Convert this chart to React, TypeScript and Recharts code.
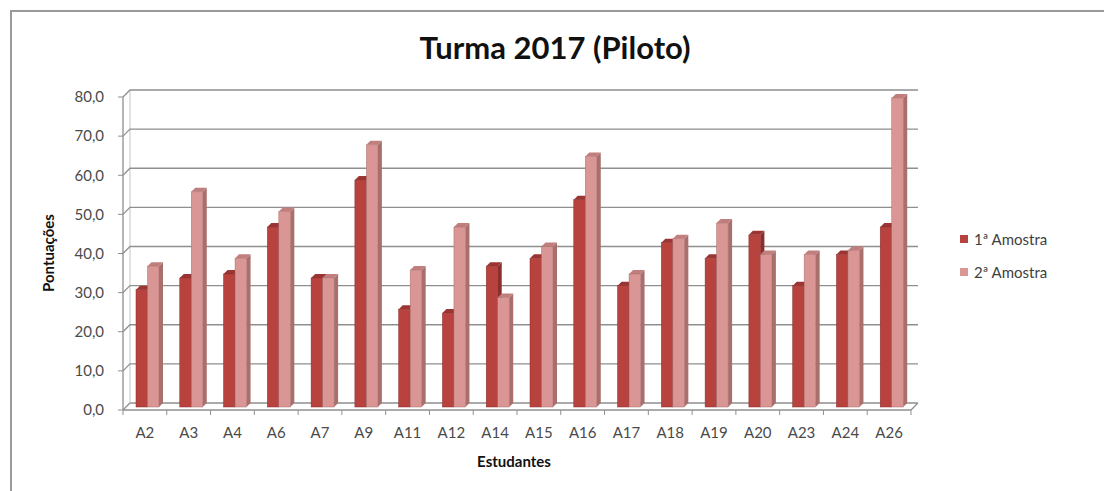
import React from 'react'
import { BarChart, Bar, XAxis, YAxis, CartesianGrid, Legend } from 'recharts'

// Alunos e pontuações de cada amostra
const students = ['A2', 'A3', 'A4', 'A6', 'A7', 'A9', 'A11', 'A12', 'A14', 'A15', 'A16', 'A17', 'A18', 'A19', 'A20', 'A23', 'A24', 'A26']
const amostra1 = [30, 33, 34, 46, 33, 58, 25, 24, 36, 38, 53, 31, 42, 38, 44, 31, 39, 46]
const amostra2 = [36, 55, 38, 50, 33, 67, 35, 46, 28, 41, 64, 34, 43, 47, 39, 39, 40, 79]
const yTicks = [0, 10, 20, 30, 40, 50, 60, 70, 80]

const data = students.map((aluno, i) => ({ aluno, a1: amostra1[i], a2: amostra2[i] }))

const FONT = 'Lato, "Open Sans", sans-serif'
const W = 1104
const H = 491
const MARGIN = { top: 97, right: 193, bottom: 51, left: 63 }
const Y_AXIS_W = 60
const X_AXIS_H = 30
const PLOT_LEFT = MARGIN.left + Y_AXIS_W
const PLOT_TOP = MARGIN.top
const PLOT_BOTTOM = H - MARGIN.bottom - X_AXIS_H
const PLOT_W = W - MARGIN.right - PLOT_LEFT
const BAND = PLOT_W / students.length

// profundidade do efeito 3D
const WALL = 7
const DEPTH = 4
const LIFT = 3
const GRID = '#8f8f8f'

const shades = {
  a1: { front: '#b8423e', side: '#8a2f2d', top: '#9a3533' },
  a2: { front: '#d99694', side: '#a86f6d', top: '#c07e7c' }
}

type Shade = { front: string; side: string; top: string }

const boxShape = (c: Shade) => (props: any) => {
  const { x, y, width, height } = props
  if (!height || height <= 0) return <g />
  const fx = x + LIFT
  const fy = y - LIFT
  const w = width
  const h = height
  return (
    <g>
      <polygon
        points={`${fx + w},${fy} ${fx + w + DEPTH},${fy - DEPTH} ${fx + w + DEPTH},${fy + h - DEPTH} ${fx + w},${fy + h}`}
        fill={c.side}
      />
      <polygon
        points={`${fx},${fy} ${fx + DEPTH},${fy - DEPTH} ${fx + w + DEPTH},${fy - DEPTH} ${fx + w},${fy}`}
        fill={c.top}
      />
      <rect x={fx} y={fy} width={w} height={h} fill={c.front} stroke={c.side} strokeWidth={0.5} />
    </g>
  )
}

// linhas da parede do fundo, com o trecho inclinado da parede lateral
const wallLine = (p: any) => {
  const { x1, x2, y1 } = p
  const isFloor = Math.abs(y1 - PLOT_BOTTOM) < 1
  return (
    <g key={`wall-${y1}`}>
      <polyline
        points={`${x1},${y1} ${x1 + WALL},${y1 - WALL} ${x2 + WALL},${y1 - WALL}`}
        fill="none"
        stroke={GRID}
        strokeWidth={1.3}
      />
      {isFloor && (
        <>
          <line x1={x2} y1={y1} x2={x2 + WALL} y2={y1 - WALL} stroke={GRID} strokeWidth={1.3} />
          <line x1={x1 + WALL} y1={y1 - WALL} x2={x1 + WALL} y2={PLOT_TOP - WALL} stroke="#c4c4c4" strokeWidth={1} />
        </>
      )}
    </g>
  )
}

const StudentTick = (props: any) => {
  const { x, payload, index } = props
  const left = x - BAND / 2
  return (
    <g>
      <line x1={left} y1={PLOT_BOTTOM} x2={left} y2={PLOT_BOTTOM + 5} stroke={GRID} />
      {index === students.length - 1 && (
        <line x1={x + BAND / 2} y1={PLOT_BOTTOM} x2={x + BAND / 2} y2={PLOT_BOTTOM + 5} stroke={GRID} />
      )}
      <text x={x} y={PLOT_BOTTOM + 28} textAnchor="middle" fontFamily={FONT} fontSize={15} fill="#4a4a4a">
        {payload.value}
      </text>
    </g>
  )
}

const renderLegend = ({ payload }: any) => (
  <div style={{ fontFamily: FONT, fontSize: 15, color: '#404040' }}>
    {(payload || []).map((item: any) => (
      <div key={item.value} style={{ display: 'flex', alignItems: 'center', height: 33 }}>
        <span style={{ width: 8, height: 8, background: item.color, marginRight: 6, display: 'inline-block' }} />
        {item.value}
      </div>
    ))}
  </div>
)

const fmt = (v: number) => v.toFixed(1).replace('.', ',')

export default function App() {
  return (
    <div style={{ position: 'fixed', left: 0, top: 0, width: W, height: H, overflow: 'hidden', background: '#fff', fontFamily: FONT }}>
      <div style={{ position: 'absolute', left: 10, top: 10, width: 1200, height: 700, border: '2px solid #9a9a9a', boxSizing: 'border-box' }} />
      <div style={{ position: 'absolute', left: 0, top: 0 }}>
        <BarChart width={W} height={H} data={data} margin={MARGIN} barGap={0} barSize={11.5}>
          <CartesianGrid horizontal={wallLine} vertical={false} />
          <XAxis
            dataKey="aluno"
            height={X_AXIS_H}
            axisLine={{ stroke: GRID, strokeWidth: 1.3 }}
            tickLine={false}
            tickSize={5}
            tickMargin={2}
            interval={0}
            tick={<StudentTick />}
          />
          <YAxis
            width={Y_AXIS_W}
            domain={[0, 80]}
            ticks={yTicks}
            tickFormatter={fmt}
            axisLine={{ stroke: GRID, strokeWidth: 1.3 }}
            tickLine={{ stroke: GRID }}
            tickSize={5}
            tickMargin={14}
            tick={{ fontFamily: FONT, fontSize: 15, fill: '#4a4a4a' }}
          />
          <Legend
            layout="horizontal"
            verticalAlign="middle"
            align="center"
            content={renderLegend}
            wrapperStyle={{ left: 960, top: 222, right: 'auto', bottom: 'auto', width: 140 }}
          />
          <Bar dataKey="a1" name="1ª Amostra" fill={shades.a1.front} shape={boxShape(shades.a1)} isAnimationActive={false} />
          <Bar dataKey="a2" name="2ª Amostra" fill={shades.a2.front} shape={boxShape(shades.a2)} isAnimationActive={false} />
        </BarChart>
      </div>
      <svg width={W} height={H} style={{ position: 'absolute', left: 0, top: 0, pointerEvents: 'none' }}>
        <text x={555} y={59} textAnchor="middle" fontFamily={FONT} fontWeight={700} fontSize={31} fill="#111">
          Turma 2017 (Piloto)
        </text>
        <text transform="translate(54,253) rotate(-90)" textAnchor="middle" fontFamily={FONT} fontWeight={700} fontSize={15} fill="#111">
          Pontuações
        </text>
        <text x={514} y={467} textAnchor="middle" fontFamily={FONT} fontWeight={700} fontSize={15} fill="#111">
          Estudantes
        </text>
      </svg>
    </div>
  )
}
